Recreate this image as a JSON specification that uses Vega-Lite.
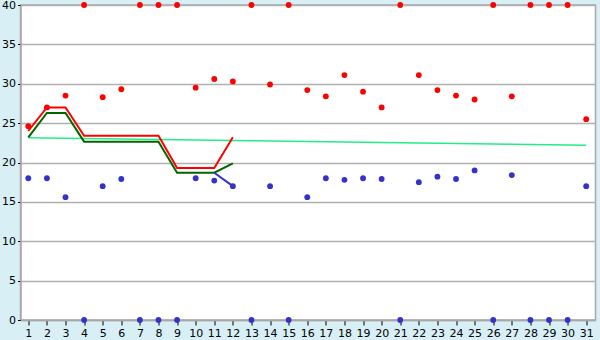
{
  "$schema": "https://vega.github.io/schema/vega-lite/v6.json",
  "width": 575,
  "height": 315,
  "autosize": {"type": "none"},
  "padding": {"left": 20.5, "top": 5, "right": 4.5, "bottom": 20},
  "background": "#D9EFF6",
  "config": {
    "view": {"fill": "white", "stroke": "#A8A8A8", "strokeWidth": 1.5},
    "axis": {
      "labelFont": "DejaVu Sans",
      "labelFontSize": 11,
      "labelColor": "black",
      "tickColor": "black",
      "domainColor": "#A8A8A8",
      "domainWidth": 1.5,
      "gridColor": "#B0B0B0",
      "gridWidth": 1.5,
      "labelOverlap": false,
      "title": null
    }
  },
  "datasets": {
    "pts": [
      {"day": 1, "hi": 24.6, "lo": 18.0},
      {"day": 2, "hi": 27.0, "lo": 18.0},
      {"day": 3, "hi": 28.5, "lo": 15.6},
      {"day": 4, "hi": 40, "lo": 0},
      {"day": 5, "hi": 28.3, "lo": 17.0},
      {"day": 6, "hi": 29.3, "lo": 17.9},
      {"day": 7, "hi": 40, "lo": 0},
      {"day": 8, "hi": 40, "lo": 0},
      {"day": 9, "hi": 40, "lo": 0},
      {"day": 10, "hi": 29.5, "lo": 18.0},
      {"day": 11, "hi": 30.6, "lo": 17.7},
      {"day": 12, "hi": 30.3, "lo": 17.0},
      {"day": 13, "hi": 40, "lo": 0},
      {"day": 14, "hi": 29.9, "lo": 17.0},
      {"day": 15, "hi": 40, "lo": 0},
      {"day": 16, "hi": 29.2, "lo": 15.6},
      {"day": 17, "hi": 28.4, "lo": 18.0},
      {"day": 18, "hi": 31.1, "lo": 17.8},
      {"day": 19, "hi": 29.0, "lo": 18.0},
      {"day": 20, "hi": 27.0, "lo": 17.9},
      {"day": 21, "hi": 40, "lo": 0},
      {"day": 22, "hi": 31.1, "lo": 17.5},
      {"day": 23, "hi": 29.2, "lo": 18.2},
      {"day": 24, "hi": 28.5, "lo": 17.9},
      {"day": 25, "hi": 28.0, "lo": 19.0},
      {"day": 26, "hi": 40, "lo": 0},
      {"day": 27, "hi": 28.4, "lo": 18.4},
      {"day": 28, "hi": 40, "lo": 0},
      {"day": 29, "hi": 40, "lo": 0},
      {"day": 30, "hi": 40, "lo": 0},
      {"day": 31, "hi": 25.5, "lo": 17.0}
    ],
    "lines": [
      {"day": 1, "red": 24.0, "green": 23.2},
      {"day": 2, "red": 27.0, "green": 26.3},
      {"day": 3, "red": 27.0, "green": 26.3},
      {"day": 4, "red": 23.4, "green": 22.65},
      {"day": 5, "red": 23.4, "green": 22.65},
      {"day": 6, "red": 23.4, "green": 22.65},
      {"day": 7, "red": 23.4, "green": 22.65},
      {"day": 8, "red": 23.4, "green": 22.65},
      {"day": 9, "red": 19.3, "green": 18.7},
      {"day": 10, "red": 19.3, "green": 18.7},
      {"day": 11, "red": 19.3, "green": 18.7},
      {"day": 12, "red": 23.2, "green": 19.9}
    ],
    "blue": [
      {"day": 11, "v": 18.7},
      {"day": 12, "v": 17.0}
    ],
    "normal": [
      {"day": 1, "v": 23.15}, {"day": 2, "v": 23.12}, {"day": 3, "v": 23.09},
      {"day": 4, "v": 23.06}, {"day": 5, "v": 23.02}, {"day": 6, "v": 22.99},
      {"day": 7, "v": 22.96}, {"day": 8, "v": 22.93}, {"day": 9, "v": 22.9},
      {"day": 10, "v": 22.87}, {"day": 11, "v": 22.83}, {"day": 12, "v": 22.8},
      {"day": 13, "v": 22.77}, {"day": 14, "v": 22.74}, {"day": 15, "v": 22.71},
      {"day": 16, "v": 22.68}, {"day": 17, "v": 22.64}, {"day": 18, "v": 22.61},
      {"day": 19, "v": 22.58}, {"day": 20, "v": 22.55}, {"day": 21, "v": 22.52},
      {"day": 22, "v": 22.49}, {"day": 23, "v": 22.45}, {"day": 24, "v": 22.42},
      {"day": 25, "v": 22.39}, {"day": 26, "v": 22.36}, {"day": 27, "v": 22.33},
      {"day": 28, "v": 22.3}, {"day": 29, "v": 22.26}, {"day": 30, "v": 22.23},
      {"day": 31, "v": 22.2}
    ]
  },
  "encoding": {
    "x": {
      "field": "day",
      "type": "quantitative",
      "scale": {"domain": [0.58, 31.5], "nice": false, "zero": false},
      "axis": {
        "values": [1,2,3,4,5,6,7,8,9,10,11,12,13,14,15,16,17,18,19,20,21,22,23,24,25,26,27,28,29,30,31],
        "grid": false,
        "tickSize": 5,
        "labelPadding": 2,
        "labelFlush": false
      }
    }
  },
  "layer": [
    {
      "data": {"name": "normal"},
      "mark": {"type": "line", "color": "#22EE88", "strokeWidth": 1.5},
      "encoding": {
        "y": {
          "field": "v",
          "type": "quantitative",
          "scale": {"domain": [0, 40], "nice": false},
          "axis": {"values": [0, 5, 10, 15, 20, 25, 30, 35, 40], "grid": true, "tickSize": 3, "labelPadding": 2}
        }
      }
    },
    {
      "data": {"name": "lines"},
      "mark": {"type": "line", "color": "#006600", "strokeWidth": 2},
      "encoding": {"y": {"field": "green", "type": "quantitative", "scale": {"domain": [0, 40], "nice": false}, "axis": {"values": [0, 5, 10, 15, 20, 25, 30, 35, 40], "grid": true, "tickSize": 3, "labelPadding": 2}}}
    },
    {
      "data": {"name": "lines"},
      "mark": {"type": "line", "color": "#FF0000", "strokeWidth": 2},
      "encoding": {"y": {"field": "red", "type": "quantitative", "scale": {"domain": [0, 40], "nice": false}, "axis": {"values": [0, 5, 10, 15, 20, 25, 30, 35, 40], "grid": true, "tickSize": 3, "labelPadding": 2}}}
    },
    {
      "data": {"name": "blue"},
      "mark": {"type": "line", "color": "#3333CC", "strokeWidth": 2},
      "encoding": {"y": {"field": "v", "type": "quantitative", "scale": {"domain": [0, 40], "nice": false}, "axis": {"values": [0, 5, 10, 15, 20, 25, 30, 35, 40], "grid": true, "tickSize": 3, "labelPadding": 2}}}
    },
    {
      "data": {"name": "pts"},
      "mark": {"type": "point", "shape": "circle", "filled": true, "size": 34, "color": "#FF0000", "opacity": 1},
      "encoding": {"y": {"field": "hi", "type": "quantitative", "scale": {"domain": [0, 40], "nice": false}, "axis": {"values": [0, 5, 10, 15, 20, 25, 30, 35, 40], "grid": true, "tickSize": 3, "labelPadding": 2}}}
    },
    {
      "data": {"name": "pts"},
      "mark": {"type": "point", "shape": "circle", "filled": true, "size": 34, "color": "#3333CC", "opacity": 1},
      "encoding": {"y": {"field": "lo", "type": "quantitative", "scale": {"domain": [0, 40], "nice": false}, "axis": {"values": [0, 5, 10, 15, 20, 25, 30, 35, 40], "grid": true, "tickSize": 3, "labelPadding": 2}}}
    }
  ]
}
